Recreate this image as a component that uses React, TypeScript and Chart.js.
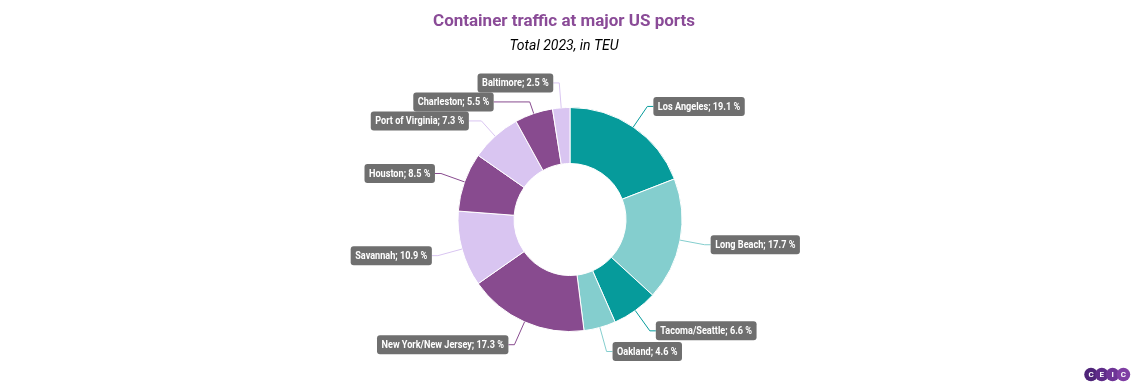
import React, { useEffect, useRef } from "react";
import { Chart, registerables } from "chart.js";

Chart.register(...registerables);

const ports = [
  "Los Angeles",
  "Long Beach",
  "Tacoma/Seattle",
  "Oakland",
  "New York/New Jersey",
  "Savannah",
  "Houston",
  "Port of Virginia",
  "Charleston",
  "Baltimore",
];
const shares = [19.1, 17.7, 6.6, 4.6, 17.3, 10.9, 8.5, 7.3, 5.5, 2.5];
const sliceColors = [
  "#069b9b",
  "#84cece",
  "#069b9b",
  "#84cece",
  "#884b8f",
  "#d9c5f1",
  "#884b8f",
  "#d9c5f1",
  "#884b8f",
  "#d9c5f1",
];
const titleText = "Container traffic at major US ports";
const subtitleText = "Total 2023, in TEU";
const logoLetters = ["C", "E", "I", "C"];
const logoColors = ["#4f2579", "#5f2c89", "#6e3496", "#7f3ea3"];

const LABEL_FONT = "bold 11px Roboto";
const LABEL_SCALE = 0.83;
const LABEL_H = 19;
const LABEL_PAD = 4.5;
const LABEL_GAP = 6;
const LABEL_DIST = 25;
const LABEL_SPACING = 19;

const labelPlugin = {
  id: "pieLabels",
  afterDatasetsDraw(chart: any) {
    const ctx = chart.ctx as CanvasRenderingContext2D;
    const meta = chart.getDatasetMeta(0);
    const arcs = meta.data as any[];
    if (!arcs.length) return;
    const cx = arcs[0].x;
    const cy = arcs[0].y;
    const r = arcs[0].outerRadius;
    const R = r + LABEL_DIST;
    const items = arcs.map((a: any, i: number) => {
      const mid = (a.startAngle + a.endAngle) / 2;
      return {
        i,
        mid,
        right: Math.cos(mid) >= 0,
        y: cy + R * Math.sin(mid),
      };
    });
    [true, false].forEach((side) => {
      const group = items.filter((it) => it.right === side).sort((a, b) => a.y - b.y);
      for (let k = 1; k < group.length; k++) {
        if (group[k].y < group[k - 1].y + LABEL_SPACING) group[k].y = group[k - 1].y + LABEL_SPACING;
      }
    });
    ctx.save();
    ctx.font = LABEL_FONT;
    items.forEach((it) => {
      const dy = it.y - cy;
      const dx = Math.abs(dy) < R ? Math.sqrt(R * R - dy * dy) : 0;
      const edge = it.right ? cx + dx + LABEL_GAP : cx - dx - LABEL_GAP;
      const sx = cx + r * Math.cos(it.mid);
      const sy = cy + r * Math.sin(it.mid);
      const s = Math.sin(it.mid);
      let t = Math.abs(s) > 0.05 ? dy / s : R;
      if (!(t >= r)) t = r;
      let bx = cx + t * Math.cos(it.mid);
      if (it.right && bx > edge) bx = edge;
      if (!it.right && bx < edge) bx = edge;
      ctx.strokeStyle = sliceColors[it.i];
      ctx.lineWidth = 1;
      ctx.beginPath();
      ctx.moveTo(sx, sy);
      ctx.lineTo(bx, it.y);
      ctx.lineTo(edge, it.y);
      ctx.stroke();

      const text = `${ports[it.i]}; ${shares[it.i].toFixed(1)} %`;
      const tw = ctx.measureText(text).width * LABEL_SCALE;
      const w = tw + LABEL_PAD * 2;
      const x0 = it.right ? edge : edge - w;
      const y0 = it.y - LABEL_H / 2;
      ctx.fillStyle = "#6f6f6f";
      ctx.beginPath();
      (ctx as any).roundRect(x0, y0, w, LABEL_H, 3);
      ctx.fill();
      ctx.save();
      ctx.fillStyle = "#ffffff";
      ctx.textBaseline = "middle";
      ctx.textAlign = "left";
      ctx.translate(x0 + LABEL_PAD, it.y + 0.5);
      ctx.scale(LABEL_SCALE, 1);
      ctx.fillText(text, 0, 0);
      ctx.restore();
    });
    ctx.restore();
  },
  afterDraw(chart: any) {
    const ctx = chart.ctx as CanvasRenderingContext2D;
    const W = chart.width;
    ctx.save();
    ctx.textAlign = "center";
    ctx.textBaseline = "alphabetic";
    ctx.fillStyle = "#8a4b97";
    ctx.font = "bold 17px Roboto";
    ctx.fillText(titleText, W / 2 - 6, 26);
    ctx.fillStyle = "#000000";
    ctx.font = "italic 14px Roboto";
    ctx.fillText(subtitleText, W / 2 - 6, 50);
    // logo
    const lr = 6.8;
    const ly = 374.5;
    const startX = W - 49;
    ctx.font = "bold 8px Roboto";
    ctx.textBaseline = "middle";
    logoLetters.forEach((ch, k) => {
      const x = startX + k * 10.8;
      ctx.fillStyle = logoColors[k];
      ctx.beginPath();
      ctx.arc(x, ly, lr, 0, Math.PI * 2);
      ctx.fill();
      ctx.fillStyle = "#ffffff";
      ctx.fillText(ch, x, ly + 0.5);
    });
    ctx.restore();
  },
};

export default function App() {
  const ref = useRef<HTMLCanvasElement>(null);
  useEffect(() => {
    document.body.style.margin = "0";
    const chart = new Chart(ref.current!, {
      type: "doughnut",
      data: {
        labels: ports,
        datasets: [
          {
            data: shares,
            backgroundColor: sliceColors,
            borderColor: "#ffffff",
            borderWidth: 1,
          },
        ],
      },
      options: {
        responsive: false,
        animation: false,
        cutout: "50%",
        layout: { padding: { top: 107, bottom: 58, left: 0, right: 0 } },
        plugins: {
          legend: { display: false },
          tooltip: { enabled: false },
          title: { display: false },
        },
      },
      plugins: [labelPlugin],
    });
    return () => chart.destroy();
  }, []);
  return (
    <div style={{ width: 1140, height: 390 }}>
      <canvas ref={ref} width={1140} height={390} style={{ display: "block" }} />
    </div>
  );
}
